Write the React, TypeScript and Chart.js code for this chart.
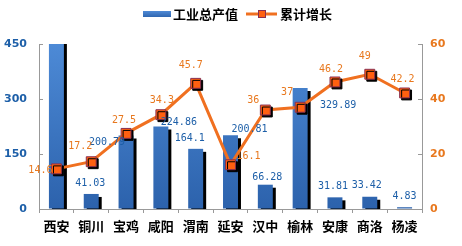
import React, { useEffect, useRef } from "react";
import { Chart, registerables } from "chart.js";

Chart.register(...registerables);

const categories = ["西安", "铜川", "宝鸡", "咸阳", "渭南", "延安", "汉中", "榆林", "安康", "商洛", "杨凌"];
const outputValues = [460, 41.03, 200.79, 224.86, 164.1, 200.81, 66.28, 329.89, 31.81, 33.42, 4.83];
const growthValues = [14.6, 17.2, 27.5, 34.3, 45.7, 16.1, 36, 37, 46.2, 49, 42.2];
const seriesNames = ["工业总产值", "累计增长"];
const leftAxis = { min: 0, max: 450, step: 150 };
const rightAxis = { min: 0, max: 60, step: 20 };

// label nudges (px) relative to default anchor
const barLabelNudgeX = [0, -1, -19, 18, -6, 19, 2, 38, -2, -3, 0];
const barLabelNudgeY = [0, -11, 7, -4, -10, -6, -7, 17, -11, -11, -11];
const lineLabelNudgeX = [-16, -11, -2, 1, -5, 18, -12, -13, -4, -5, -2];
const lineLabelNudgeY = [2, -15, -13, -14, -18, -8, -10, -15, -13, -18, -14];

const BLUE_TEXT = "#1d5fa8";
const ORANGE_TEXT = "#e8781e";
const LINE_COLOR = "#f07020";
const MARKER_FILL = "#ff6010";
const MARKER_BORDER = "#8a3050";
const AXIS_COLOR = "#999999";

export default function App() {
  const ref = useRef<HTMLCanvasElement | null>(null);

  useEffect(() => {
    document.body.style.margin = "0";
    const canvas = ref.current!;

    const shadowPlugin = {
      id: "shadows",
      beforeDatasetDraw(chart: any, args: any) {
        const ds = chart.data.datasets[args.index];
        if (ds._shadow) {
          const ctx = chart.ctx;
          ctx.save();
          ctx.shadowColor = "rgba(0,0,0,1)";
          ctx.shadowOffsetX = ds._shadow[0];
          ctx.shadowOffsetY = ds._shadow[1];
          ctx.shadowBlur = 0;
        }
      },
      afterDatasetDraw(chart: any, args: any) {
        const ds = chart.data.datasets[args.index];
        if (ds._shadow) chart.ctx.restore();
      },
    };

    const extrasPlugin = {
      id: "extras",
      beforeDatasetsDraw(chart: any) {
        const ctx = chart.ctx;
        const y0 = chart.scales.y;
        const y1 = chart.scales.y1;
        const area = chart.chartArea;
        ctx.save();
        ctx.strokeStyle = AXIS_COLOR;
        ctx.lineWidth = 1;
        ctx.beginPath();
        y0.ticks.forEach((t: any) => {
          const py = Math.round(y0.getPixelForValue(t.value)) + 0.5;
          ctx.moveTo(area.left, py);
          ctx.lineTo(area.left + 4, py);
        });
        y1.ticks.forEach((t: any) => {
          const py = Math.round(y1.getPixelForValue(t.value)) + 0.5;
          ctx.moveTo(area.right, py);
          ctx.lineTo(area.right - 4, py);
        });
        ctx.stroke();
        ctx.restore();
      },
      afterDatasetsDraw(chart: any) {
        const ctx = chart.ctx;
        ctx.save();
        ctx.font = "10px 'DejaVu Sans Mono'";
        ctx.textAlign = "center";
        ctx.textBaseline = "middle";
        const barMeta = chart.getDatasetMeta(0);
        barMeta.data.forEach((el: any, i: number) => {
          if (outputValues[i] > leftAxis.max) return;
          ctx.fillStyle = BLUE_TEXT;
          ctx.fillText(String(outputValues[i]), el.x + barLabelNudgeX[i], el.y + barLabelNudgeY[i]);
        });
        const lineMeta = chart.getDatasetMeta(1);
        lineMeta.data.forEach((el: any, i: number) => {
          ctx.fillStyle = ORANGE_TEXT;
          ctx.fillText(String(growthValues[i]), el.x + lineLabelNudgeX[i], el.y + lineLabelNudgeY[i]);
        });

        // legend
        const ly = 14;
        ctx.font = "bold 13px 'Noto Sans CJK SC'";
        ctx.textAlign = "left";
        ctx.textBaseline = "middle";
        const t1 = ctx.measureText(seriesNames[0]).width;
        let x = 143;
        const g = ctx.createLinearGradient(0, ly - 3, 0, ly + 3);
        g.addColorStop(0, "#4f8ad6");
        g.addColorStop(1, "#2f66b0");
        ctx.fillStyle = g;
        ctx.fillRect(x, ly - 3, 28, 6);
        x += 30;
        ctx.fillStyle = "#000";
        ctx.fillText(seriesNames[0], x, ly);
        x += t1 + 8;
        ctx.strokeStyle = LINE_COLOR;
        ctx.lineWidth = 3;
        ctx.beginPath();
        ctx.moveTo(x, ly);
        ctx.lineTo(x + 31, ly);
        ctx.stroke();
        ctx.fillStyle = MARKER_FILL;
        ctx.strokeStyle = MARKER_BORDER;
        ctx.lineWidth = 1;
        ctx.fillRect(x + 12, ly - 4, 8, 8);
        ctx.strokeRect(x + 12.5, ly - 3.5, 7, 7);
        x += 34;
        ctx.fillStyle = "#000";
        ctx.fillText(seriesNames[1], x, ly);
        ctx.restore();
      },
    };

    const chart = new Chart(canvas, {
      type: "bar",
      data: {
        labels: categories,
        datasets: [
          {
            type: "bar",
            label: seriesNames[0],
            data: outputValues,
            yAxisID: "y",
            order: 3,
            _shadow: [3, 3],
            clip: { left: 0, top: 0, right: 6, bottom: 0 },
            categoryPercentage: 1,
            barPercentage: 0.43,
            backgroundColor: (c: any) => {
              const area = c.chart.chartArea;
              if (!area) return "#3a74c4";
              const g = c.chart.ctx.createLinearGradient(0, area.top, 0, area.bottom);
              g.addColorStop(0, "#4d8ad6");
              g.addColorStop(1, "#2c62ac");
              return g;
            },
            borderWidth: 0,
          } as any,
          {
            type: "line",
            label: seriesNames[1],
            data: growthValues,
            yAxisID: "y1",
            order: 2,
            borderColor: LINE_COLOR,
            borderWidth: 3,
            pointRadius: 0,
            tension: 0,
          } as any,
          {
            type: "line",
            label: "points",
            data: growthValues,
            yAxisID: "y1",
            order: 1,
            showLine: false,
            _shadow: [2, 2],
            pointStyle: "rect",
            pointRadius: 7,
            pointBackgroundColor: MARKER_FILL,
            pointBorderColor: MARKER_BORDER,
            pointBorderWidth: 1,
          } as any,
        ],
      },
      options: {
        responsive: false,
        animation: false,
        devicePixelRatio: 1,
        layout: { padding: { top: 44, left: 0, right: 0, bottom: 0 } },
        plugins: { legend: { display: false }, tooltip: { enabled: false } },
        scales: {
          x: {
            offset: true,
            grid: { display: true, drawOnChartArea: false, drawTicks: true, tickLength: 4, color: AXIS_COLOR, offset: true },
            border: { display: true, color: AXIS_COLOR },
            ticks: { color: "#000", font: { family: "'Noto Sans CJK SC'", size: 13, weight: "bold" }, padding: 5, maxRotation: 0, autoSkip: false },
            afterFit: (s: any) => { s.height = 37; },
          },
          y: {
            position: "left",
            min: leftAxis.min,
            max: leftAxis.max,
            ticks: { stepSize: leftAxis.step, color: BLUE_TEXT, font: { family: "'DejaVu Sans'", size: 11, weight: "bold" }, padding: 12 },
            grid: { display: true, drawOnChartArea: false, drawTicks: false },
            border: { display: true, color: AXIS_COLOR },
            afterFit: (s: any) => { s.width = 39; },
          },
          y1: {
            position: "right",
            min: rightAxis.min,
            max: rightAxis.max,
            ticks: { stepSize: rightAxis.step, color: ORANGE_TEXT, font: { family: "'DejaVu Sans'", size: 11, weight: "bold" }, padding: 8 },
            grid: { display: true, drawOnChartArea: false, drawTicks: false },
            border: { display: true, color: AXIS_COLOR },
            afterFit: (s: any) => { s.width = 40; },
          },
        },
      },
      plugins: [shadowPlugin, extrasPlugin],
    } as any);

    return () => chart.destroy();
  }, []);

  return (
    <div style={{ width: 462, height: 246 }}>
      <canvas ref={ref} width={462} height={246} style={{ display: "block" }} />
    </div>
  );
}
